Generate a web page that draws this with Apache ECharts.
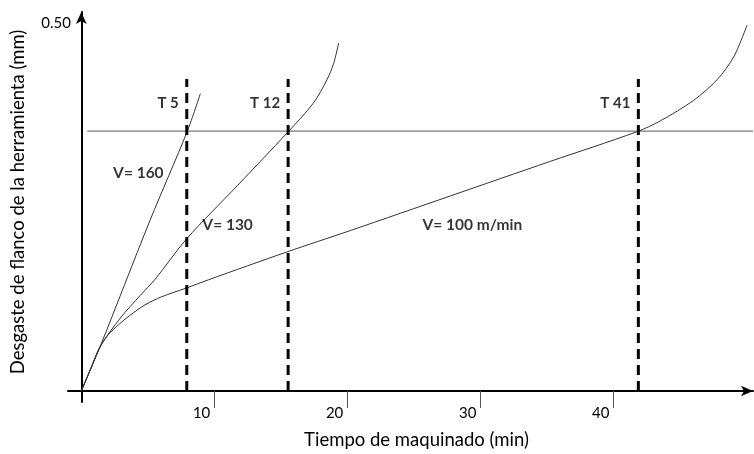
<!DOCTYPE html>
<html>
<head>
<meta charset="utf-8">
<script src="https://cdn.jsdelivr.net/npm/echarts@6/dist/echarts.min.js"></script>
<style>
html,body{margin:0;padding:0;background:#fff;}
#chart{width:754px;height:454px;}
</style>
</head>
<body>
<div id="chart"></div>
<script>
// ---- data (x: machining time axis units, y: flank wear mm) ----
var curveV160 = [[0,0],[1.41,0.060],[5.17,0.232],[7.97,0.353],[8.95,0.404]];
var curveV130 = [[0,0],[0.7,0.030],[1.41,0.060],[2.93,0.099],[4.44,0.130],[5.56,0.152],[7.93,0.207],[11.73,0.279],[15.49,0.351],[17.44,0.391],[18.47,0.423],[18.97,0.445],[19.35,0.473]];
var curveV100 = [[0,0],[0.7,0.030],[1.41,0.060],[2.0,0.076],[2.8,0.090],[3.6,0.102],[4.79,0.117],[6.04,0.128],[7.92,0.140],[9.55,0.151],[15.47,0.189],[20.23,0.218],[27.74,0.265],[35.26,0.312],[41.73,0.352],[43.53,0.367],[46.04,0.395],[47.80,0.423],[49.05,0.454],[50.05,0.497]];
var wearCriterion = 0.353;
var criterionStartX = 0.45;
var toolLifeX = [7.93, 15.55, 41.88];
var toolLifeLabels = ['T 5', 'T 12', 'T 41'];
var dashTop = 0.424;
var toolLifeLabelY = 0.391;
var speedLabels = ['V= 160', 'V= 130', 'V= 100 m/min'];
var speedLabelPos = [[4.29, 0.296], [11.0, 0.226], [29.4, 0.226]];
var xTickValues = [10, 20, 30, 40];
var yTickValues = [0.5];
var xMin = -1, xMax = 50.5, yMin = -0.015, yMax = 0.515;

var FONT = 'Lato';
var chart = echarts.init(document.getElementById('chart'), null, {renderer: 'canvas'});

var series = [];
function curve(data) {
  return {type: 'line', data: data, smooth: 0.3, showSymbol: false, silent: true,
    lineStyle: {color: '#333', width: 1}, z: 3};
}
series.push(curve(curveV160), curve(curveV130), curve(curveV100));
series.push({type: 'line', data: [[criterionStartX, wearCriterion], [xMax, wearCriterion]], showSymbol: false,
  lineStyle: {color: '#777', width: 1.2}, z: 2});
toolLifeX.forEach(function (x) {
  series.push({type: 'line', data: [[x, 0], [x, dashTop]], showSymbol: false,
    lineStyle: {color: '#000', width: 3, type: [10, 6]}, z: 4});
});
series.push({type: 'scatter', symbolSize: 0, z: 5,
  data: toolLifeX.map(function (x, i) { return {value: [x, toolLifeLabelY], name: toolLifeLabels[i]}; }),
  label: {show: true, position: 'left', distance: 8, formatter: '{b}', color: '#000',
    fontFamily: FONT, fontWeight: 'bold', fontSize: 15}});
series.push({type: 'scatter', symbolSize: 0, z: 5,
  data: speedLabelPos.map(function (p, i) { return {value: p, name: speedLabels[i]}; }),
  label: {show: true, position: 'inside', formatter: '{b}', color: '#000',
    fontFamily: FONT, fontWeight: 'bold', fontSize: 15.5}});

chart.setOption({
  animation: false,
  backgroundColor: '#fff',
  grid: {left: 68, right: 1, top: 12, bottom: 52, containLabel: false, outerBoundsMode: 'none'},
  xAxis: {
    type: 'value', min: xMin, max: xMax,
    name: 'Tiempo de maquinado (min)', nameLocation: 'middle', nameGap: 29,
    nameTextStyle: {fontFamily: FONT, fontSize: 18.5, color: '#000', padding: [0, 0, 0, 12]},
    axisLine: {onZero: true, lineStyle: {color: '#000', width: 2}, symbol: ['none', 'arrow'], symbolSize: [8, 12]},
    axisTick: {show: true, customValues: xTickValues, length: 17, inside: false, lineStyle: {color: '#555', width: 1}},
    axisLabel: {customValues: xTickValues, margin: 4, align: 'right', verticalAlign: 'top', padding: [0, 4, 0, 0],
      fontFamily: FONT, fontSize: 15, color: '#000'},
    splitLine: {show: false}
  },
  yAxis: {
    type: 'value', min: yMin, max: yMax,
    name: 'Desgaste de flanco de la herramienta (mm)', nameLocation: 'middle', nameGap: 40,
    nameTextStyle: {fontFamily: FONT, fontSize: 18.5, color: '#000', padding: [0, 0, 0, 10]},
    axisLine: {onZero: true, lineStyle: {color: '#000', width: 2}, symbol: ['none', 'arrow'], symbolSize: [8, 12]},
    axisTick: {show: false},
    axisLabel: {customValues: yTickValues, margin: -3, fontFamily: FONT, fontSize: 15, color: '#000',
      formatter: function (v) { return v.toFixed(2); }},
    splitLine: {show: false}
  },
  series: series
});
</script>
</body>
</html>
